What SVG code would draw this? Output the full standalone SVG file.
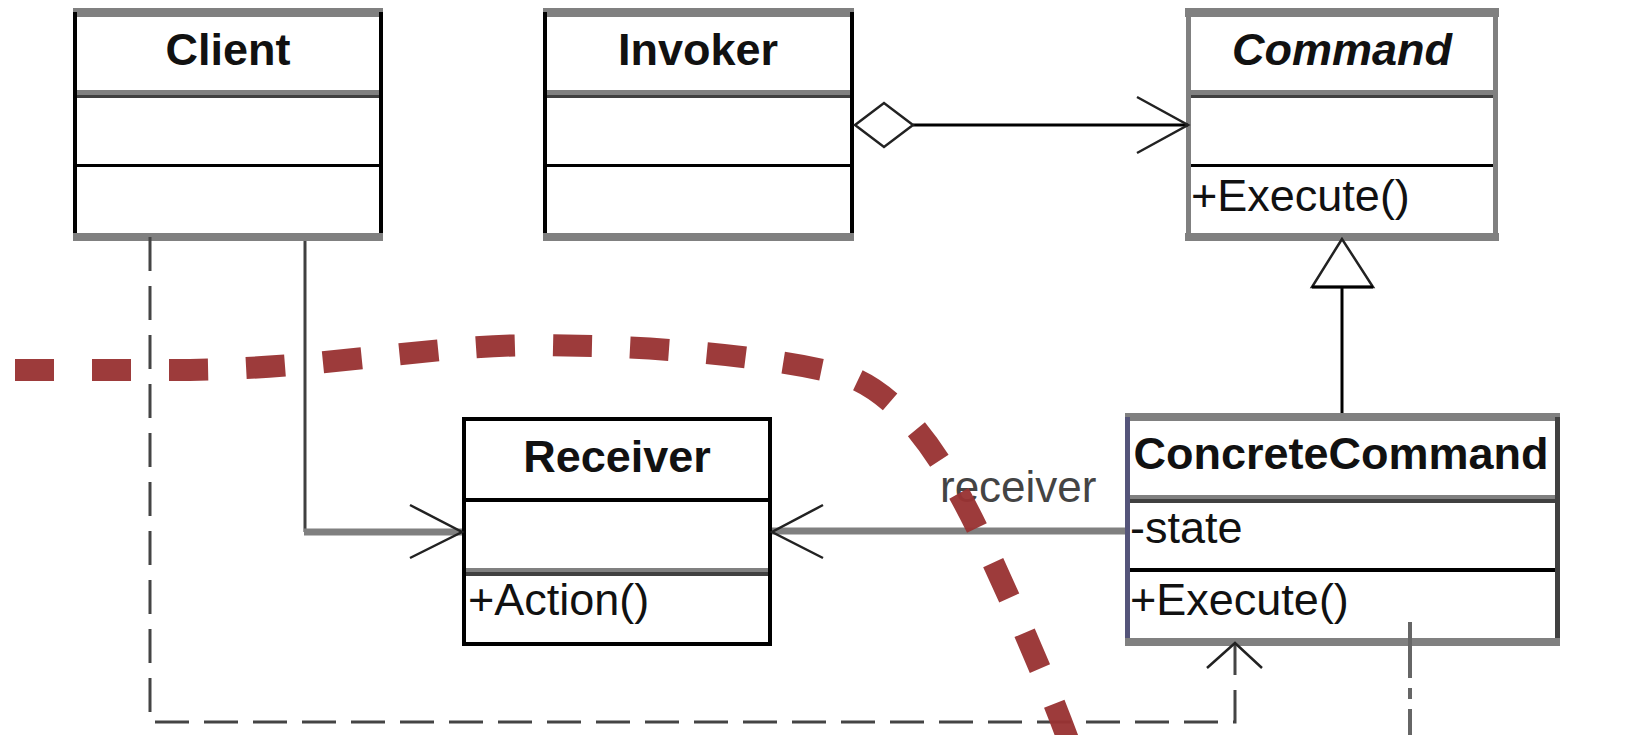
<svg xmlns="http://www.w3.org/2000/svg" width="1635" height="735" viewBox="0 0 1635 735">
  <style>
    .title{font-family:"Liberation Sans",Arial,sans-serif;font-size:45px;font-weight:bold;fill:#111;text-anchor:middle}
    .member{font-family:"Liberation Sans",Arial,sans-serif;font-size:45px;fill:#111}
    .label{font-family:"Liberation Sans",Arial,sans-serif;font-size:44px;fill:#444}
    .band{fill:#808080}
    .dark{fill:#404040}
    .blk{fill:#000}
    .head{fill:none;stroke:#222;stroke-width:2.5}
    .hollow{fill:#fff;stroke:#222;stroke-width:2.5}
  </style>
  <rect width="1635" height="735" fill="#fff"/>

  <!-- Client class -->
  <g id="client">
    <rect class="band" x="73" y="8" width="310" height="9"/>
    <rect class="blk" x="73" y="12" width="4" height="225"/>
    <rect class="blk" x="379" y="12" width="4" height="225"/>
    <rect class="band" x="77" y="90" width="302" height="5"/>
    <rect class="dark" x="77" y="95" width="302" height="3"/>
    <rect class="blk" x="77" y="164" width="302" height="3"/>
    <rect class="band" x="73" y="233" width="310" height="8"/>
    <text class="title" x="228" y="65">Client</text>
  </g>

  <!-- Invoker class -->
  <g id="invoker">
    <rect class="band" x="543" y="8" width="311" height="9"/>
    <rect class="blk" x="543" y="12" width="4" height="225"/>
    <rect class="blk" x="850" y="12" width="4" height="225"/>
    <rect class="band" x="547" y="90" width="303" height="5"/>
    <rect class="dark" x="547" y="95" width="303" height="3"/>
    <rect class="blk" x="547" y="164" width="303" height="3"/>
    <rect class="band" x="543" y="233" width="311" height="8"/>
    <text class="title" x="698" y="65">Invoker</text>
  </g>

  <!-- Command (abstract) class -->
  <g id="command">
    <rect class="band" x="1185" y="8" width="314" height="9"/>
    <rect class="band" x="1186" y="8" width="5" height="233"/>
    <rect class="band" x="1493" y="8" width="5" height="233"/>
    <rect class="band" x="1191" y="90" width="302" height="5"/>
    <rect class="dark" x="1191" y="95" width="302" height="3"/>
    <rect class="blk" x="1191" y="164" width="302" height="3"/>
    <rect class="band" x="1185" y="233" width="314" height="8"/>
    <text class="title" x="1342" y="65" font-style="italic">Command</text>
    <text class="member" x="1191" y="211">+Execute()</text>
  </g>

  <!-- Receiver class -->
  <g id="receiver">
    <rect class="blk" x="462" y="417" width="310" height="4"/>
    <rect class="blk" x="462" y="417" width="4" height="229"/>
    <rect class="blk" x="768" y="417" width="4" height="229"/>
    <rect class="blk" x="466" y="498" width="302" height="4"/>
    <rect class="band" x="466" y="568" width="302" height="4"/>
    <rect class="dark" x="466" y="572" width="302" height="4"/>
    <rect class="blk" x="462" y="642" width="310" height="4"/>
    <text class="title" x="617" y="472">Receiver</text>
    <text class="member" x="468" y="615">+Action()</text>
  </g>

  <!-- ConcreteCommand class -->
  <g id="concrete-command">
    <rect class="band" x="1125" y="413" width="435" height="8"/>
    <rect fill="#55557a" x="1125" y="417" width="5" height="229"/>
    <rect class="dark" x="1555" y="417" width="5" height="229"/>
    <rect class="band" x="1130" y="495" width="425" height="4"/>
    <rect class="dark" x="1130" y="499" width="425" height="4"/>
    <rect class="blk" x="1130" y="568" width="425" height="4"/>
    <rect class="band" x="1125" y="638" width="435" height="8"/>
    <text class="title" x="1341" y="469">ConcreteCommand</text>
    <text class="member" x="1130" y="543">-state</text>
    <text class="member" x="1130" y="615">+Execute()</text>
  </g>

  <!-- relationships -->
  <g id="connectors">
    <!-- Invoker aggregates Command -->
    <line x1="913" y1="125" x2="1188" y2="125" stroke="#000" stroke-width="3"/>
    <polygon class="hollow" points="855,125 884,103 913,125 884,147"/>
    <polyline class="head" points="1137,97 1188,125 1137,153"/>

    <!-- ConcreteCommand generalizes Command -->
    <line x1="1342" y1="287" x2="1342" y2="413" stroke="#000" stroke-width="3"/>
    <polygon class="hollow" points="1342,239 1312,287 1373,287"/>
    <line x1="1312" y1="287" x2="1373" y2="287" stroke="#000" stroke-width="3"/>

    <!-- Client to Receiver -->
    <line x1="305" y1="241" x2="305" y2="532" stroke="#404040" stroke-width="3"/>
    <line x1="304" y1="532" x2="462" y2="532" stroke="#808080" stroke-width="7"/>
    <polyline class="head" points="410,505 462,532 410,558"/>

    <!-- ConcreteCommand to Receiver -->
    <line x1="772" y1="531" x2="1125" y2="531" stroke="#808080" stroke-width="7"/>
    <polyline class="head" points="823,505 772,532 823,558"/>
    <text class="label" x="940" y="502">receiver</text>

    <!-- Client creates ConcreteCommand -->
    <path d="M150 237 V722 H1235 V645" fill="none" stroke="#444" stroke-width="3" stroke-dasharray="34 15"/>
    <polyline class="head" points="1207,668 1235,643 1262,668"/>

    <!-- dash-dot lead -->
    <line x1="1410" y1="622" x2="1410" y2="735" stroke="#666" stroke-width="4" stroke-dasharray="56 10 11 10"/>
  </g>

  <!-- dividing boundary -->
  <g id="boundary">
    <path d="M15 370 L190 370 C330 368 430 345 540 345 C680 346 785 360 845 375 C905 395 950 470 985 545 C1020 620 1050 690 1070 745"
          fill="none" stroke="#993333" stroke-width="22" stroke-dasharray="39 38" stroke-opacity="0.96"/>
  </g>
</svg>
